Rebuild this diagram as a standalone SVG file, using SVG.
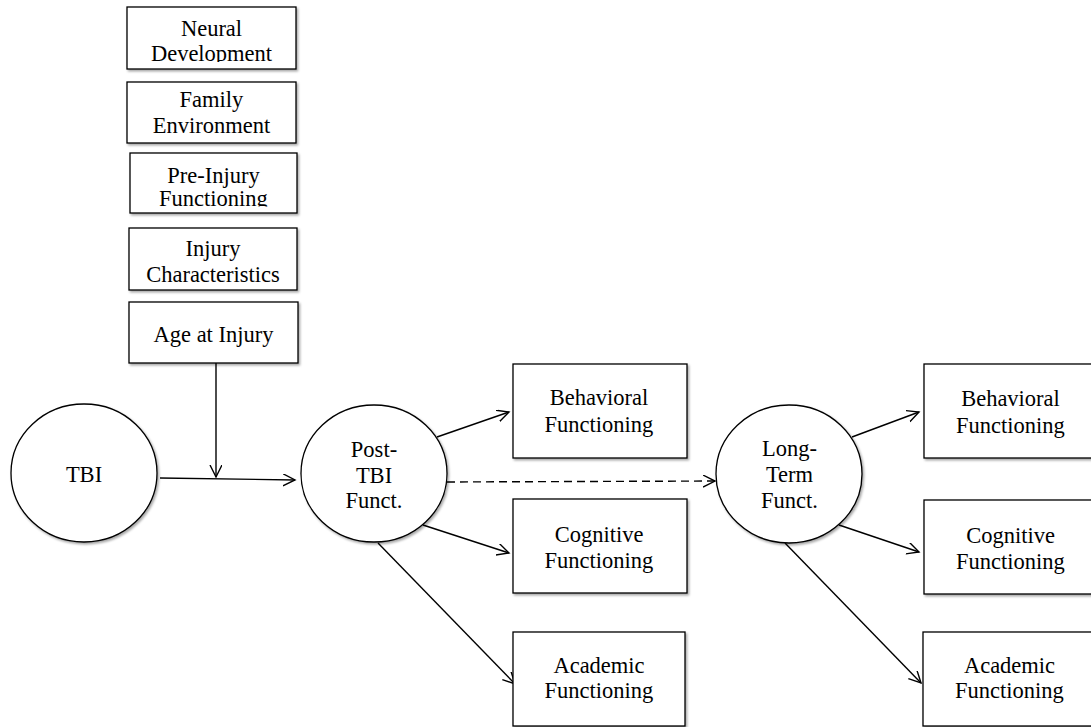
<svg xmlns="http://www.w3.org/2000/svg" width="1091" height="727" viewBox="0 0 1091 727">
  <style>
    .box { fill: #fff; stroke: #000; stroke-width: 1.3; filter: url(#shadow); }
    .ell { fill: #fff; stroke: #000; stroke-width: 1.3; filter: url(#shadow); }
    .lbl { font-size: 22.5px; fill: #000; text-anchor: middle; }
    .edge { fill: none; stroke: #000; stroke-width: 1.4; marker-end: url(#arrow); }
    .dash { stroke-dasharray: 8 5; }
  </style>
  <defs>
    <filter id="shadow" x="-10%" y="-10%" width="125%" height="130%">
      <feDropShadow dx="1.5" dy="1.8" stdDeviation="1" flood-color="#000" flood-opacity="0.35"/>
    </filter>
    <marker id="arrow" markerUnits="userSpaceOnUse" markerWidth="14" markerHeight="14" refX="12" refY="6" orient="auto">
      <path d="M0,0 L12,6 L0,12" fill="none" stroke="#000" stroke-width="1.4"/>
    </marker>
    <clipPath id="clipNeural"><rect x="127" y="7" width="169" height="55"/></clipPath>
    <clipPath id="clipPre"><rect x="130" y="153" width="167" height="53.5"/></clipPath>
  </defs>
  <rect width="1091" height="727" fill="#fff"/>

  <g id="connectors">
    <line class="edge" x1="160" y1="478" x2="295" y2="480"/>
    <line class="edge" x1="216" y1="363" x2="216" y2="477"/>
    <line class="edge" x1="437" y1="437" x2="509" y2="412"/>
    <line class="edge" x1="423" y1="525" x2="509" y2="553"/>
    <line class="edge" x1="378" y1="543" x2="515" y2="684"/>
    <line class="edge dash" x1="447" y1="482" x2="715" y2="481"/>
    <line class="edge" x1="852" y1="437" x2="919" y2="412"/>
    <line class="edge" x1="839" y1="525" x2="919" y2="552"/>
    <line class="edge" x1="785" y1="543" x2="921" y2="683"/>
  </g>

  <g font-family="'Liberation Serif', 'Times New Roman', 'DejaVu Serif', serif">
  <g id="neural-development">
    <rect class="box" x="127" y="7" width="169" height="62"/>
    <g clip-path="url(#clipNeural)">
      <text class="lbl" x="211.5" y="36">Neural</text>
      <text class="lbl" x="211.5" y="60.5">Development</text>
    </g>
  </g>
  <g id="family-environment">
    <rect class="box" x="127" y="82" width="169" height="61"/>
    <text class="lbl" x="211.5" y="106.5">Family</text>
    <text class="lbl" x="211.5" y="133">Environment</text>
  </g>
  <g id="pre-injury-functioning">
    <rect class="box" x="130" y="153" width="167" height="60"/>
    <g clip-path="url(#clipPre)">
      <text class="lbl" x="213.5" y="182.5">Pre-Injury</text>
      <text class="lbl" x="213.5" y="205.5">Functioning</text>
    </g>
  </g>
  <g id="injury-characteristics">
    <rect class="box" x="129" y="228" width="168" height="62"/>
    <text class="lbl" x="213" y="256">Injury</text>
    <text class="lbl" x="213" y="281.5">Characteristics</text>
  </g>
  <g id="age-at-injury">
    <rect class="box" x="129" y="302" width="169" height="61"/>
    <text class="lbl" x="213.5" y="341.5">Age at Injury</text>
  </g>

  <g id="tbi">
    <ellipse class="ell" cx="84" cy="473" rx="73" ry="69"/>
    <text class="lbl" x="84" y="482">TBI</text>
  </g>
  <g id="post-tbi-funct">
    <ellipse class="ell" cx="374" cy="473.5" rx="73" ry="68.5"/>
    <text class="lbl" x="374" y="457">Post-</text>
    <text class="lbl" x="374" y="482.5">TBI</text>
    <text class="lbl" x="374" y="508">Funct.</text>
  </g>
  <g id="long-term-funct">
    <ellipse class="ell" cx="789" cy="474" rx="73" ry="69"/>
    <text class="lbl" x="789.5" y="456">Long-</text>
    <text class="lbl" x="789.5" y="482">Term</text>
    <text class="lbl" x="789.5" y="508">Funct.</text>
  </g>

  <g id="behavioral-1">
    <rect class="box" x="513" y="364" width="174" height="94"/>
    <text class="lbl" x="599" y="405">Behavioral</text>
    <text class="lbl" x="599" y="432">Functioning</text>
  </g>
  <g id="cognitive-1">
    <rect class="box" x="513" y="499" width="174" height="94"/>
    <text class="lbl" x="599" y="542">Cognitive</text>
    <text class="lbl" x="599" y="568">Functioning</text>
  </g>
  <g id="academic-1">
    <rect class="box" x="513" y="632" width="172" height="94"/>
    <text class="lbl" x="599" y="673">Academic</text>
    <text class="lbl" x="599" y="698">Functioning</text>
  </g>

  <g id="behavioral-2">
    <rect class="box" x="924" y="364" width="174" height="94"/>
    <text class="lbl" x="1010.5" y="406">Behavioral</text>
    <text class="lbl" x="1010.5" y="433">Functioning</text>
  </g>
  <g id="cognitive-2">
    <rect class="box" x="924" y="500" width="174" height="94"/>
    <text class="lbl" x="1010.5" y="543">Cognitive</text>
    <text class="lbl" x="1010.5" y="569">Functioning</text>
  </g>
  <g id="academic-2">
    <rect class="box" x="923" y="632" width="174" height="94"/>
    <text class="lbl" x="1009.5" y="673">Academic</text>
    <text class="lbl" x="1009.5" y="698">Functioning</text>
  </g>
  </g>
</svg>
